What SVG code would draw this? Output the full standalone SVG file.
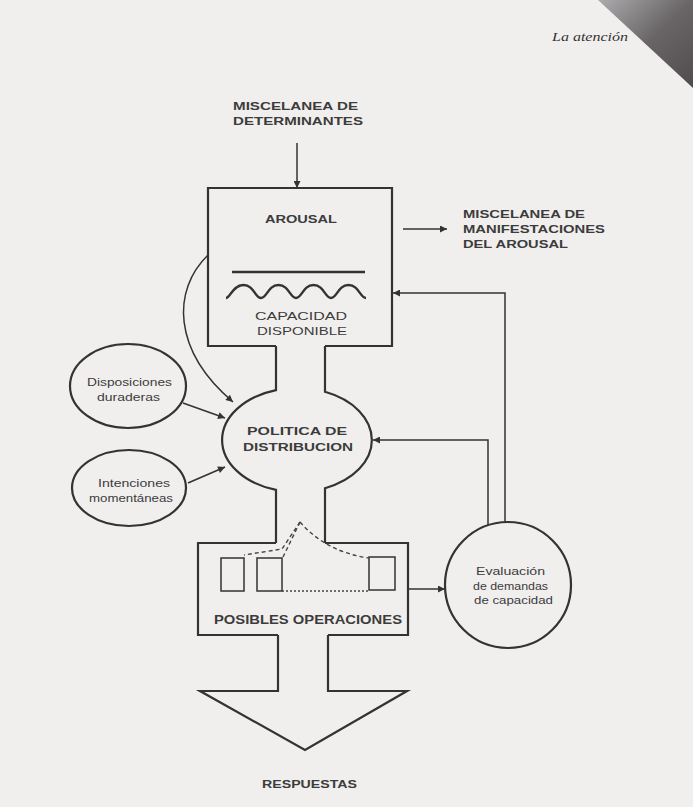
<svg xmlns="http://www.w3.org/2000/svg" width="693" height="807" viewBox="0 0 693 807">
<defs>
<linearGradient id="shade" x1="0" y1="0" x2="1" y2="1">
<stop offset="0" stop-color="#a5a4a6"/>
<stop offset="0.5" stop-color="#5a5658"/>
<stop offset="1" stop-color="#3e3a3c"/>
</linearGradient>
<marker id="ah" viewBox="0 0 10 10" refX="10" refY="5" markerWidth="10" markerHeight="7" markerUnits="userSpaceOnUse" orient="auto">
<path d="M0,0 L10,5 L0,10 z" fill="#333"/>
</marker>
<style>
.ln{fill:none;stroke:#333;stroke-width:2.2;stroke-linejoin:miter}
.thin{fill:none;stroke:#333;stroke-width:1.5}
.dash{fill:none;stroke:#444;stroke-width:1.4;stroke-dasharray:4 3}
.dot{fill:none;stroke:#444;stroke-width:1.3;stroke-dasharray:2 2}
.cap{font-family:"Liberation Sans",Arial,sans-serif;font-size:11px;font-weight:bold;fill:#3c3c3c}
.low{font-family:"Liberation Sans",Arial,sans-serif;font-size:11px;fill:#3c3c3c}
</style>
</defs>
<rect width="693" height="807" fill="#f1efee"/>
<polygon points="598,0 693,0 693,88" fill="url(#shade)" opacity="0.9"/>
<text x="552" y="41" textLength="76" lengthAdjust="spacingAndGlyphs" style="font-family:'Liberation Serif',serif;font-size:12px;font-style:italic;fill:#333">La atención</text>

<g id="determinantes">
<text class="cap" x="233" y="110" textLength="125" lengthAdjust="spacingAndGlyphs">MISCELANEA DE</text>
<text class="cap" x="233" y="125" textLength="130" lengthAdjust="spacingAndGlyphs">DETERMINANTES</text>
</g>

<g id="arousal">
<path class="ln" d="M276,346 L208,346 L208,188 L392,188 L392,346 L325,346"/>
<text class="cap" x="265" y="223" textLength="72" lengthAdjust="spacingAndGlyphs">AROUSAL</text>
<path d="M232,272 L365,272" stroke="#333" stroke-width="2.6"/>
<path class="ln" style="stroke-width:2.4" d="M226,298 C230,298 233,285 243.5,285 C254,285 255,298 261,298 C267,298 268,285 278.5,285 C289,285 290,298 296,298 C302,298 303,285 313.5,285 C324,285 325,298 331,298 C337,298 338,285 348.5,285 C359,285 360,298 366,298"/>
<text class="cap" x="255" y="320" textLength="92" lengthAdjust="spacingAndGlyphs" style="font-weight:normal">CAPACIDAD</text>
<text class="cap" x="257" y="335" textLength="90" lengthAdjust="spacingAndGlyphs" style="font-weight:normal">DISPONIBLE</text>
</g>

<g id="manifestaciones">
<text class="cap" x="463" y="218" textLength="122" lengthAdjust="spacingAndGlyphs">MISCELANEA DE</text>
<text class="cap" x="463" y="233" textLength="142" lengthAdjust="spacingAndGlyphs">MANIFESTACIONES</text>
<text class="cap" x="463" y="248" textLength="105" lengthAdjust="spacingAndGlyphs">DEL AROUSAL</text>
</g>

<g id="politica">
<path class="ln" d="M276,346 L276,390.1 A75,52 0 0 0 276,489.9 L276,543"/>
<path class="ln" d="M325,346 L325,391.8 A75,52 0 0 1 325,488.2 L325,543"/>
<text class="cap" x="247" y="435" textLength="100" lengthAdjust="spacingAndGlyphs">POLITICA DE</text>
<text class="cap" x="243" y="451" textLength="110" lengthAdjust="spacingAndGlyphs">DISTRIBUCION</text>
</g>

<g id="disposiciones">
<ellipse class="ln" cx="128" cy="386" rx="58" ry="42"/>
<text class="low" x="87" y="386" textLength="85" lengthAdjust="spacingAndGlyphs">Disposiciones</text>
<text class="low" x="97" y="401" textLength="63" lengthAdjust="spacingAndGlyphs">duraderas</text>
</g>

<g id="intenciones">
<ellipse class="ln" cx="129" cy="488" rx="57" ry="38"/>
<text class="low" x="98" y="487" textLength="72" lengthAdjust="spacingAndGlyphs">Intenciones</text>
<text class="low" x="89" y="502" textLength="84" lengthAdjust="spacingAndGlyphs">momentáneas</text>
</g>

<g id="operaciones">
<path class="ln" d="M276,543 L198,543 L198,635 L278,635"/>
<path class="ln" d="M325,543 L408,543 L408,635 L328,635"/>
<rect class="thin" x="221" y="558" width="23" height="33"/>
<rect class="thin" x="257" y="558" width="25" height="33"/>
<rect class="thin" x="369" y="557" width="26" height="33"/>
<path class="dash" d="M300,522 L282,549 L244,555"/>
<path class="dash" d="M300,522 L283,557"/>
<path class="dash" d="M300,522 Q326,552 369,558"/>
<path class="dot" d="M282,591 L369,591"/>
<text class="cap" x="214" y="624" textLength="188" lengthAdjust="spacingAndGlyphs" style="font-size:12px">POSIBLES OPERACIONES</text>
</g>

<g id="respuestas">
<path class="ln" d="M278,635 L278,691 L200,691 L305,750 L407,691 L328,691 L328,635"/>
<text class="cap" x="262" y="788" textLength="95" lengthAdjust="spacingAndGlyphs">RESPUESTAS</text>
</g>

<g id="evaluacion">
<circle class="ln" cx="508" cy="585" r="63"/>
<text class="low" x="476" y="575" textLength="69" lengthAdjust="spacingAndGlyphs">Evaluación</text>
<text class="low" x="473" y="590" textLength="75" lengthAdjust="spacingAndGlyphs">de demandas</text>
<text class="low" x="474" y="604" textLength="79" lengthAdjust="spacingAndGlyphs">de capacidad</text>
</g>

<g id="connectors">
<path class="thin" d="M297,143 L297,188" marker-end="url(#ah)"/>
<path class="thin" d="M403,229 L447,229" marker-end="url(#ah)"/>
<path class="thin" d="M208,255 C172,290 172,350 233,402" marker-end="url(#ah)"/>
<path class="thin" d="M183,403 L225,418" marker-end="url(#ah)"/>
<path class="thin" d="M188,483 L225,467" marker-end="url(#ah)"/>
<path class="thin" d="M408,589 L445,589" marker-end="url(#ah)"/>
<path class="thin" d="M488,525 L488,440 L373,440" marker-end="url(#ah)"/>
<path class="thin" d="M505,522 L505,293 L393,293" marker-end="url(#ah)"/>
</g>
</svg>
